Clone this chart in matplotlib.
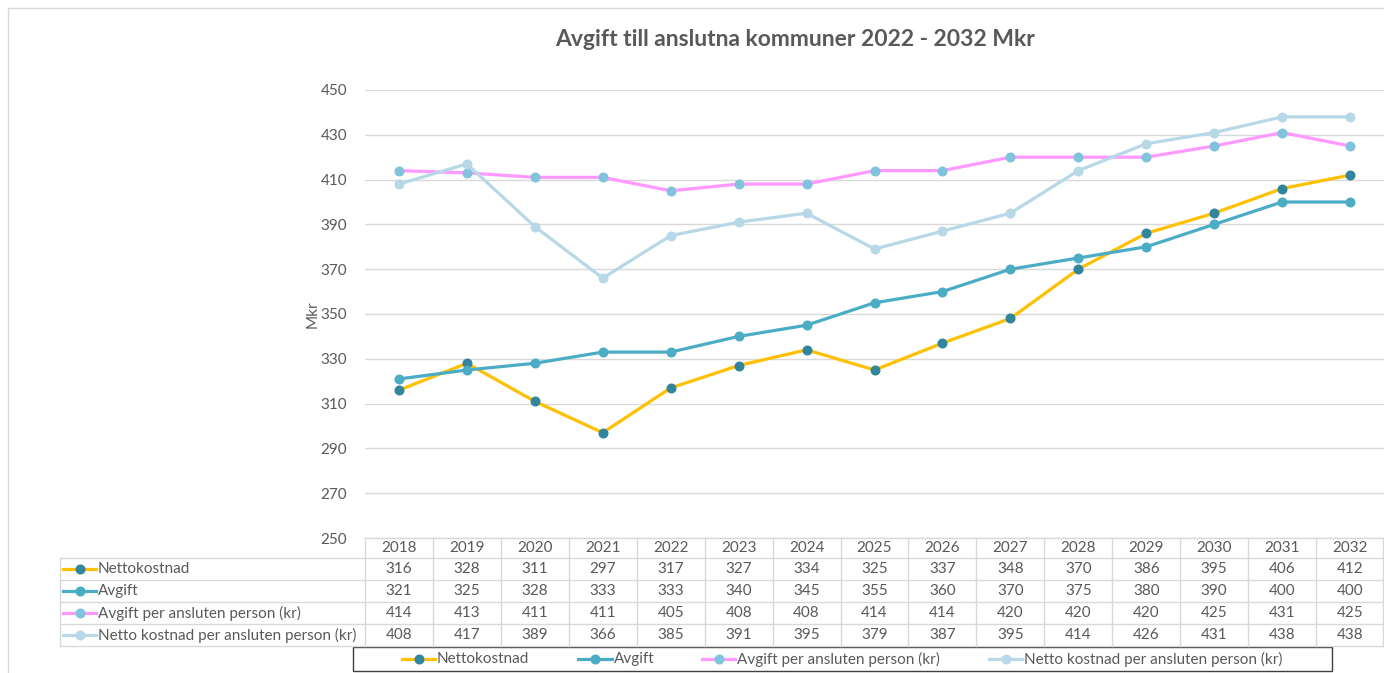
import matplotlib
matplotlib.use("Agg")
import matplotlib.pyplot as plt
from matplotlib.lines import Line2D
from matplotlib.patches import Rectangle

years = [2018, 2019, 2020, 2021, 2022, 2023, 2024, 2025, 2026, 2027, 2028, 2029, 2030, 2031, 2032]
nettokostnad = [316, 328, 311, 297, 317, 327, 334, 325, 337, 348, 370, 386, 395, 406, 412]
avgift = [321, 325, 328, 333, 333, 340, 345, 355, 360, 370, 375, 380, 390, 400, 400]
avgift_person = [414, 413, 411, 411, 405, 408, 408, 414, 414, 420, 420, 420, 425, 431, 425]
netto_person = [408, 417, 389, 366, 385, 391, 395, 379, 387, 395, 414, 426, 431, 438, 438]
series_names = ["Nettokostnad", "Avgift", "Avgift per ansluten person (kr)",
                "Netto kostnad per ansluten person (kr)"]
yticks = [250, 270, 290, 310, 330, 350, 370, 390, 410, 430, 450]

plt.rcParams['font.family'] = ['Lato', 'DejaVu Sans']
TXT = '#595959'
GRID = '#D9D9D9'
FS = 11

W, H = 1384, 673
fig = plt.figure(figsize=(W / 100, H / 100), dpi=100)

def fx(p):
    return p / W

def fy(p):
    return 1 - p / H

# outer frame
fig.add_artist(Rectangle((fx(8), fy(690)), fx(1390) - fx(8), fy(8) - fy(690),
                         transform=fig.transFigure, fill=False, edgecolor='#D9D9D9', lw=1))

ax_l, ax_r, ax_t, ax_b = 365, 1384, 90, 538
ax = fig.add_axes([fx(ax_l), fy(ax_b), fx(ax_r) - fx(ax_l), fy(ax_t) - fy(ax_b)])
ax.set_xlim(-0.5, len(years) - 0.5)
ax.set_ylim(250, 450)
ax.set_yticks(yticks)
ax.set_xticks([])
for s in ax.spines.values():
    s.set_visible(False)
ax.tick_params(axis='y', length=0, pad=13, labelsize=FS, labelcolor=TXT)
ax.grid(axis='y', color=GRID, lw=1)
ax.set_axisbelow(True)
ax.set_ylabel("Mkr", color=TXT, fontsize=FS)
ax.yaxis.set_label_coords((320 - ax_l) / (ax_r - ax_l), 0.5)

x = list(range(len(years)))
styles = [
    dict(color='#FFC000', mfc='#31859C', mec='#31859C'),
    dict(color='#4BACC6', mfc='#4BACC6', mec='#4BACC6'),
    dict(color='#FF99FF', mfc='#7FC3DC', mec='#7FC3DC'),
    dict(color='#B7D8E6', mfc='#B7D8E6', mec='#B7D8E6'),
]
data = [nettokostnad, avgift, avgift_person, netto_person]
for vals, st, name in zip(data, styles, series_names):
    ax.plot(x, vals, lw=2.3, marker='o', markersize=6.2, label=name, zorder=3, **st)

fig.text(fx(795), fy(40), "Avgift till anslutna kommuner 2022 - 2032 Mkr", ha='center', va='center',
         fontsize=16.5, fontweight='bold', color=TXT)

# data table
colw = (ax_r - ax_l) / len(years)
row_tops = [538, 558, 580, 602, 624, 646]
lab_l = 60

def hline(x0, x1, y, c=GRID):
    fig.add_artist(Line2D([fx(x0), fx(x1)], [fy(y), fy(y)], color=c, lw=1, transform=fig.transFigure))

def vline(xp, y0, y1, c=GRID):
    fig.add_artist(Line2D([fx(xp), fx(xp)], [fy(y0), fy(y1)], color=c, lw=1, transform=fig.transFigure))

def handle(x0, x1, yc, st):
    fig.add_artist(Line2D([fx(x0), fx(x1)], [fy(yc), fy(yc)], color=st['color'], lw=2.3,
                          transform=fig.transFigure))
    fig.add_artist(Line2D([fx((x0 + x1) / 2)], [fy(yc)], marker='o', markersize=6.2,
                          color=st['color'], mfc=st['mfc'], mec=st['mec'], transform=fig.transFigure))

hline(ax_l, ax_r, row_tops[0])
for y in row_tops[1:]:
    hline(lab_l, ax_r, y)
vline(lab_l, row_tops[1], row_tops[-1])
for i in range(len(years) + 1):
    vline(ax_l + i * colw - (1 if i == len(years) else 0), row_tops[0], row_tops[-1])

for i, yr in enumerate(years):
    fig.text(fx(ax_l + (i + 0.5) * colw), fy((row_tops[0] + row_tops[1]) / 2), str(yr),
             ha='center', va='center', fontsize=FS, color=TXT)
for r, (vals, st, name) in enumerate(zip(data, styles, series_names)):
    yc = (row_tops[r + 1] + row_tops[r + 2]) / 2
    handle(63, 96, yc, st)
    fig.text(fx(98), fy(yc), name, ha='left', va='center', fontsize=FS, color=TXT)
    for i, v in enumerate(vals):
        fig.text(fx(ax_l + (i + 0.5) * colw), fy(yc), str(v), ha='center', va='center',
                 fontsize=FS, color=TXT)

# legend (drawn manually to match layout)
leg_l, leg_r, leg_t, leg_b = 353, 1332, 647, 671
fig.add_artist(Rectangle((fx(leg_l), fy(leg_b)), fx(leg_r) - fx(leg_l), fy(leg_t) - fy(leg_b),
                         transform=fig.transFigure, fill=False, edgecolor='#404040', lw=1,
                         facecolor='white'))
leg_handles = [(402, 435), (578, 612), (702, 735), (989, 1022)]
yc = (leg_t + leg_b) / 2
for (h0, h1), st, name in zip(leg_handles, styles, series_names):
    handle(h0, h1, yc, st)
    fig.text(fx(h1 + 2), fy(yc), name, ha='left', va='center', fontsize=FS, color=TXT)

fig.savefig("out.png", dpi=100)
